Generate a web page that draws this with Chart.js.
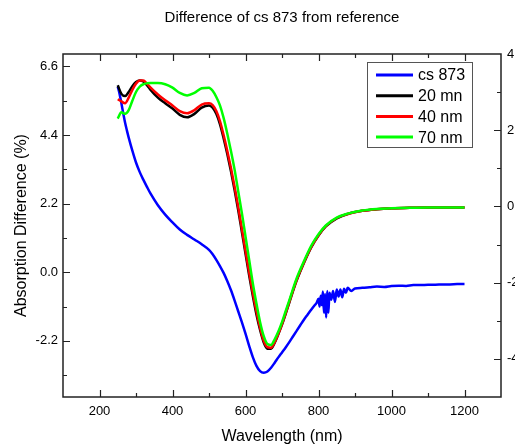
<!DOCTYPE html>
<html><head><meta charset="utf-8">
<script src="https://cdn.jsdelivr.net/npm/chart.js@4.4.1/dist/chart.umd.min.js"></script>
<style>html,body{margin:0;padding:0;background:#fff}#wrap{width:515px;height:448px}</style>
</head><body><div id="wrap"><canvas id="c" width="515" height="448"></canvas></div>
<script>
const titleText = 'Difference of cs 873 from reference';
const xTitle = 'Wavelength (nm)';
const yTitle = 'Absorption Difference (%)';
const seriesNames = ['cs 873', '20 mn', '40 nm', '70 nm'];
const seriesColors = ['#0000ff', '#000000', '#ff0000', '#00ff00'];
const xTickValues = [200, 400, 600, 800, 1000, 1200];
const xMinorValues = [100, 300, 500, 700, 900, 1100, 1300];
const yLeftTicks = [-2.2, 0, 2.2, 4.4, 6.6];
const yLeftMinor = [-3.3, -1.1, 1.1, 3.3, 5.5];
const yRightTicks = [-4, -2, 0, 2, 4];
const yRightMinor = [-5, -3, -1, 1, 3];

const wlBlue = [250,255,260,265,270,275,280,290,300,310,320,330,340,360,380,400,420,440,460,480,500,510,520,530,540,550,560,570,580,590,600,610,620,630,640,650,660,670,680,690,700,710,720,730,740,750,760,770,780,790,795,800,803,806,809,812,815,818,821,824,827,830,835,840,845,850,855,860,865,870,875,880,890,900,920,940,960,980,1000,1020,1040,1060,1080,1100,1120,1140,1160,1180,1200];
const cs873 = [5.95,5.72,5.42,5.1,4.8,4.55,4.32,3.9,3.52,3.22,2.97,2.74,2.52,2.15,1.85,1.6,1.37,1.2,1.05,0.9,0.72,0.58,0.4,0.2,-0.02,-0.28,-0.57,-0.9,-1.25,-1.6,-1.97,-2.36,-2.72,-3.0,-3.17,-3.22,-3.18,-3.06,-2.9,-2.73,-2.57,-2.41,-2.24,-2.06,-1.88,-1.7,-1.52,-1.36,-1.2,-1.05,-0.98,-0.85,-1.1,-0.75,-1.05,-0.62,-1.3,-0.7,-1.45,-0.6,-1.3,-0.66,-0.88,-0.6,-0.95,-0.55,-0.78,-0.55,-0.8,-0.53,-0.66,-0.5,-0.6,-0.52,-0.5,-0.48,-0.46,-0.47,-0.44,-0.43,-0.44,-0.41,-0.41,-0.4,-0.4,-0.39,-0.39,-0.38,-0.38];

const wlFilm = [250,260,270,280,290,300,310,320,330,340,360,380,400,420,440,460,480,500,510,520,530,540,550,560,570,580,590,600,610,620,630,640,650,660,670,680,690,700,710,720,740,760,780,800,820,850,880,920,960,1000,1050,1100,1150,1200];
const mn20 = [6.0,5.72,5.65,5.78,5.97,6.1,6.15,6.12,6.0,5.85,5.6,5.42,5.25,5.05,4.97,5.08,5.28,5.35,5.28,5.08,4.75,4.3,3.8,3.25,2.65,2.0,1.3,0.6,-0.1,-0.75,-1.35,-1.85,-2.25,-2.45,-2.45,-2.26,-1.98,-1.68,-1.33,-0.97,-0.27,0.3,0.8,1.18,1.47,1.73,1.87,1.97,2.02,2.05,2.07,2.08,2.08,2.08];
const nm40 = [5.55,5.48,5.42,5.6,5.85,6.05,6.15,6.15,6.05,5.92,5.7,5.52,5.35,5.17,5.1,5.2,5.38,5.42,5.36,5.17,4.85,4.4,3.9,3.35,2.75,2.1,1.4,0.7,0.0,-0.65,-1.25,-1.78,-2.2,-2.4,-2.42,-2.24,-1.97,-1.66,-1.31,-0.95,-0.25,0.31,0.81,1.19,1.48,1.74,1.87,1.97,2.02,2.05,2.07,2.08,2.08,2.08];
const nm70 = [4.93,5.13,5.08,5.2,5.5,5.78,5.95,6.03,6.06,6.07,6.07,6.03,5.92,5.75,5.67,5.75,5.9,5.92,5.82,5.62,5.35,4.95,4.45,3.9,3.3,2.6,1.9,1.15,0.4,-0.35,-1.0,-1.6,-2.05,-2.3,-2.33,-2.15,-1.9,-1.6,-1.25,-0.9,-0.2,0.35,0.85,1.22,1.5,1.75,1.88,1.98,2.03,2.05,2.07,2.08,2.08,2.08];

const FONT = "'Liberation Sans', Arial, sans-serif";
Chart.defaults.font.family = FONT;
Chart.defaults.color = '#000';

function pts(xs, ys) { return xs.map((x, i) => ({x: x, y: ys[i]})); }

const seriesData = [pts(wlBlue, cs873), pts(wlFilm, mn20), pts(wlFilm, nm40), pts(wlFilm, nm70)];
const drawOrder = [3, 2, 1, 0];

const datasets = seriesNames.map((n, i) => ({
  label: n, data: seriesData[i], borderColor: seriesColors[i], backgroundColor: seriesColors[i],
  borderWidth: 2.5, pointRadius: 0, fill: false, cubicInterpolationMode: 'monotone',
  order: drawOrder[i], yAxisID: 'y'
}));

const framePlugin = {
  id: 'frame',
  afterDraw(chart) {
    const ctx = chart.ctx, a = chart.chartArea;
    const sx = chart.scales.x, sy = chart.scales.y, sr = chart.scales.yR;
    ctx.save();
    ctx.strokeStyle = '#222';
    ctx.lineWidth = 1.5;
    ctx.strokeRect(a.left, a.top, a.right - a.left, a.bottom - a.top);
    ctx.lineWidth = 1.2;
    ctx.beginPath();
    const major = 7, minor = 4;
    function xt(vals, len) {
      vals.forEach(v => {
        const p = Math.round(sx.getPixelForValue(v)) + 0.5;
        if (p < a.left + 1 || p > a.right - 1) return;
        ctx.moveTo(p, a.bottom); ctx.lineTo(p, a.bottom - len);
        ctx.moveTo(p, a.top); ctx.lineTo(p, a.top + len);
      });
    }
    function yt(scale, vals, len, left) {
      vals.forEach(v => {
        const p = Math.round(scale.getPixelForValue(v)) + 0.5;
        if (p < a.top + 1 || p > a.bottom - 1) return;
        if (left) { ctx.moveTo(a.left, p); ctx.lineTo(a.left + len, p); }
        else { ctx.moveTo(a.right, p); ctx.lineTo(a.right - len, p); }
      });
    }
    xt(xTickValues, major); xt(xMinorValues, minor);
    yt(sy, yLeftTicks, major, true); yt(sy, yLeftMinor, minor, true);
    yt(sr, yRightTicks, major, false); yt(sr, yRightMinor, minor, false);
    ctx.stroke();

    // legend
    const L = {x: 367, y: 62, w: 105, h: 85};
    ctx.fillStyle = '#fff';
    ctx.fillRect(L.x, L.y, L.w, L.h);
    ctx.strokeStyle = '#555';
    ctx.lineWidth = 1;
    ctx.strokeRect(L.x + 0.5, L.y + 0.5, L.w, L.h);
    ctx.font = '16px ' + FONT;
    ctx.textBaseline = 'middle';
    ctx.textAlign = 'left';
    chart.data.datasets.forEach((ds, i) => {
      const yy = L.y + 13 + i * 20.7;
      ctx.strokeStyle = ds.borderColor;
      ctx.lineWidth = 3;
      ctx.beginPath(); ctx.moveTo(L.x + 9, yy); ctx.lineTo(L.x + 46, yy); ctx.stroke();
      ctx.fillStyle = '#000';
      ctx.fillText(ds.label, L.x + 51, yy + 1);
    });
    ctx.restore();
  }
};

new Chart(document.getElementById('c'), {
  type: 'line',
  data: {datasets: datasets},
  plugins: [framePlugin],
  options: {
    responsive: false, animation: false, devicePixelRatio: 1,
    layout: {padding: 0},
    plugins: {
      legend: {display: false}, tooltip: {enabled: false},
      title: {display: true, fullSize: false, text: titleText, color: '#000', font: {size: 15, weight: 'normal'}, padding: {top: 9, bottom: 27}}
    },
    scales: {
      x: {
        type: 'linear', position: 'bottom', min: 100, max: 1300,
        afterBuildTicks: s => { s.ticks = xTickValues.map(v => ({value: v})); },
        afterFit: s => { s.height = 51; },
        ticks: {font: {size: 13}, color: '#000', padding: 7, maxRotation: 0, autoSkip: false, callback: v => String(v)},
        grid: {display: false, drawTicks: false}, border: {display: false},
        title: {display: true, text: xTitle, color: '#000', font: {size: 16}, padding: {top: 0, bottom: 2}}
      },
      y: {
        type: 'linear', position: 'left', min: -4, max: 7,
        afterBuildTicks: s => { s.ticks = yLeftTicks.map(v => ({value: v})); },
        afterFit: s => { s.width = 63; },
        ticks: {font: {size: 13}, color: '#000', padding: 5, autoSkip: false, callback: v => Number(v).toFixed(1)},
        grid: {display: false, drawTicks: false}, border: {display: false},
        title: {display: true, text: yTitle, color: '#000', font: {size: 16}, padding: {top: 12, bottom: 0}}
      },
      yR: {
        type: 'linear', position: 'right', min: -5, max: 4,
        afterBuildTicks: s => { s.ticks = yRightTicks.map(v => ({value: v})); },
        afterFit: s => { s.width = 14; },
        ticks: {font: {size: 13}, color: '#000', padding: 6, autoSkip: false, callback: v => String(v)},
        grid: {display: false, drawTicks: false}, border: {display: false}
      }
    }
  }
});
</script></body></html>
